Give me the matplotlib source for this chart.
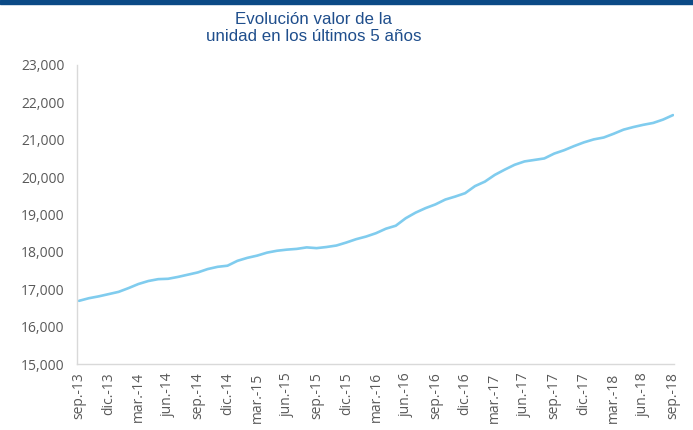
import matplotlib
matplotlib.use("Agg")
import matplotlib.pyplot as plt
from matplotlib.ticker import FuncFormatter

title = "Evolución valor de la\nunidad en los últimos 5 años"
tick_labels = ["sep.-13", "dic.-13", "mar.-14", "jun.-14", "sep.-14", "dic.-14",
               "mar.-15", "jun.-15", "sep.-15", "dic.-15", "mar.-16", "jun.-16",
               "sep.-16", "dic.-16", "mar.-17", "jun.-17", "sep.-17", "dic.-17",
               "mar.-18", "jun.-18", "sep.-18"]
# monthly values from sep-13 to sep-18
values = [16690, 16760, 16810, 16870, 16930, 17030, 17140, 17220, 17270, 17280,
          17330, 17390, 17450, 17540, 17600, 17630, 17760, 17840, 17900, 17980,
          18030, 18060, 18080, 18120, 18100, 18130, 18170, 18250, 18340, 18410,
          18500, 18620, 18700, 18900, 19050, 19170, 19270, 19400, 19480, 19570,
          19760, 19880, 20060, 20200, 20330, 20420, 20460, 20500, 20630, 20720,
          20830, 20930, 21010, 21060, 21160, 21270, 21340, 21400, 21450, 21540,
          21660]
months = list(range(len(values)))
tick_pos = list(range(0, len(values), 3))

fig = plt.figure(figsize=(6.93, 4.30), dpi=100)
fig.patches.append(plt.Rectangle((0, 1 - 4/430), 1, 4/430, transform=fig.transFigure,
                                 color="#0B4A86", zorder=0))
ax = fig.add_axes([77/693, 1 - 364/430, (674 - 77)/693, (364 - 65)/430])
ax.plot(months, values, color="#80CCEE", lw=1.9, solid_capstyle="round")
ax.set_xlim(-0.2, 60.1)
ax.set_ylim(15000, 23000)
ax.set_yticks(range(15000, 23001, 1000))
ax.yaxis.set_major_formatter(FuncFormatter(lambda v, p: f"{int(v):,}"))
ax.set_xticks(tick_pos)
ax.set_xticklabels(tick_labels, rotation=90)
for lab in ax.get_xticklabels() + ax.get_yticklabels():
    lab.set_fontfamily("Open Sans")
    lab.set_fontsize(10)
    lab.set_color("#595959")
ax.tick_params(length=0, pad=6)
ax.tick_params(axis="y", pad=9)
for s in ["top", "right"]:
    ax.spines[s].set_visible(False)
for s in ["left", "bottom"]:
    ax.spines[s].set_color("#D9D9D9")
    ax.spines[s].set_linewidth(1)

fig.text(0.453, 1 - 12/430, title, ha="center", va="top", fontsize=12.2,
         family="Liberation Sans", color="#1F4E8C", linespacing=1.2)

fig.savefig("out.png", dpi=100)
